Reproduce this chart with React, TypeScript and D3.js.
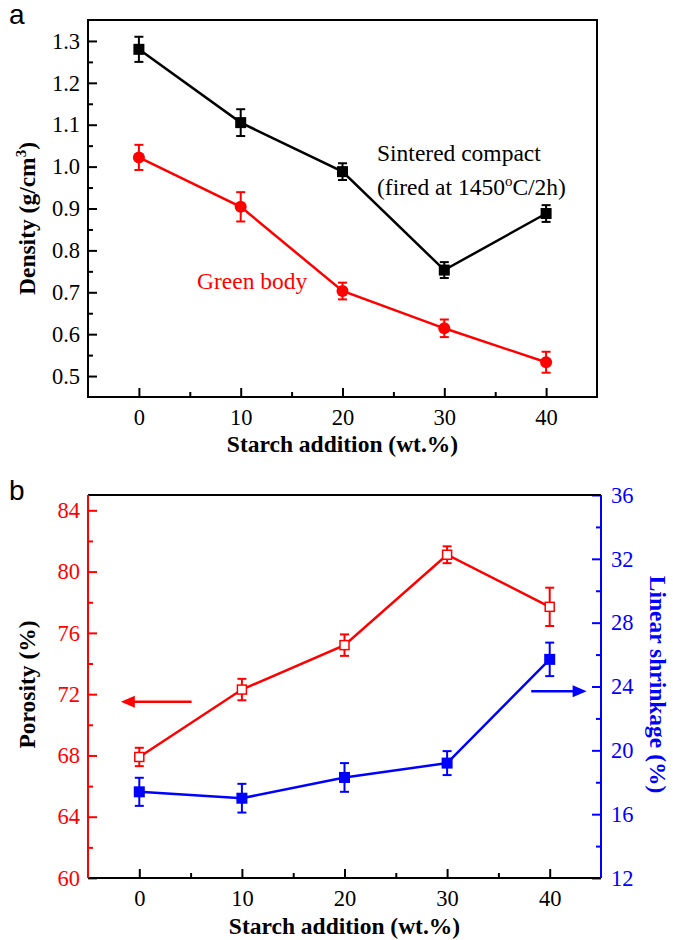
import React, { useEffect, useRef } from "react";
import * as d3 from "d3";

// values
const starch = [0, 10, 20, 30, 40];
const sinteredDensity = [1.28, 1.105, 0.988, 0.753, 0.888];
const sinteredErr = [0.03, 0.032, 0.02, 0.019, 0.02];
const greenDensity = [1.022, 0.904, 0.703, 0.614, 0.533];
const greenErr = [0.03, 0.035, 0.02, 0.021, 0.025];
const porosity = [67.9, 72.3, 75.2, 81.1, 77.7];
const porosityErr = [0.6, 0.7, 0.7, 0.55, 1.25];
const shrinkage = [17.4, 17.0, 18.3, 19.2, 25.7];
const shrinkageErr = [0.88, 0.9, 0.9, 0.75, 1.05];

const xTicks = [0, 10, 20, 30, 40];
const xMinor = [5, 15, 25, 35];
const densityTicks = [0.5, 0.6, 0.7, 0.8, 0.9, 1.0, 1.1, 1.2, 1.3];
const densityMinor = [0.55, 0.65, 0.75, 0.85, 0.95, 1.05, 1.15, 1.25];
const porosityTicks = [60, 64, 68, 72, 76, 80, 84];
const porosityMinor = [62, 66, 70, 74, 78, 82];
const shrinkageTicks = [12, 16, 20, 24, 28, 32, 36];
const shrinkageMinor = [14, 18, 22, 26, 30, 34];

const W = 673;
const H = 940;
const SERIF = "'Liberation Serif', 'Times New Roman', serif";
const RED = "#ff0000";
const BLUE = "#0000ff";
const TICK_FS = 22.5;
const TITLE_FS = "23.5px";
const NOTE_FS = "23.5px";

function App() {
  const svgRef = useRef<SVGSVGElement | null>(null);

  useEffect(() => {
    const svg = d3.select(svgRef.current);
    svg.selectAll("*").remove();

    const styleAxis = (g: any, color: string, size: number) => {
      g.select(".domain").remove();
      g.selectAll("line").attr("stroke", color).attr("stroke-width", 2);
      g.selectAll("text")
        .attr("fill", color)
        .style("font-family", SERIF)
        .style("font-size", size + "px");
    };

    const addErrorBars = (g: any, x: any, y: any, vals: number[], errs: number[], color: string) => {
      starch.forEach((s, i) => {
        const cx = x(s);
        const y0 = y(vals[i] - errs[i]);
        const y1 = y(vals[i] + errs[i]);
        g.append("line").attr("x1", cx).attr("x2", cx).attr("y1", y0).attr("y2", y1)
          .attr("stroke", color).attr("stroke-width", 2);
        [y0, y1].forEach((yy) => {
          g.append("line").attr("x1", cx - 4.5).attr("x2", cx + 4.5).attr("y1", yy).attr("y2", yy)
            .attr("stroke", color).attr("stroke-width", 2);
        });
      });
    };

    //---------------- panel a ----------------
    const a = { left: 88, right: 597, top: 20, bottom: 397 };
    const xA = d3.scaleLinear().domain([-5, 45]).range([a.left, a.right]);
    const yA = d3.scaleLinear().domain([0.45, 1.35]).range([a.bottom, a.top]);

    svg.append("text").attr("x", 9).attr("y", 24).text("a")
      .style("font-family", "'Liberation Sans', Arial, sans-serif").style("font-size", "28px");

    // minor + major ticks, pointing inward
    const gA = svg.append("g");
    gA.append("g").attr("transform", `translate(0,${a.bottom})`)
      .call(d3.axisBottom(xA).tickValues(xMinor).tickSize(-5).tickFormat(() => ""))
      .call((g: any) => styleAxis(g, "#000", TICK_FS));
    gA.append("g").attr("transform", `translate(0,${a.bottom})`)
      .call(d3.axisBottom(xA).tickValues(xTicks).tickSize(-9).tickPadding(12).tickFormat(d3.format("d")))
      .call((g: any) => styleAxis(g, "#000", TICK_FS));
    gA.append("g").attr("transform", `translate(${a.left},0)`)
      .call(d3.axisLeft(yA).tickValues(densityMinor).tickSize(-5).tickFormat(() => ""))
      .call((g: any) => styleAxis(g, "#000", TICK_FS));
    gA.append("g").attr("transform", `translate(${a.left},0)`)
      .call(d3.axisLeft(yA).tickValues(densityTicks).tickSize(-9).tickPadding(8).tickFormat(d3.format(".1f")))
      .call((g: any) => styleAxis(g, "#000", TICK_FS));

    svg.append("rect").attr("x", a.left).attr("y", a.top)
      .attr("width", a.right - a.left).attr("height", a.bottom - a.top)
      .attr("fill", "none").attr("stroke", "#000").attr("stroke-width", 2);

    const lineA = (vals: number[]) =>
      d3.line<number>().x((_, i) => xA(starch[i])).y((d) => yA(d))(vals);

    svg.append("path").attr("d", lineA(sinteredDensity)).attr("fill", "none")
      .attr("stroke", "#000").attr("stroke-width", 2.5);
    svg.append("path").attr("d", lineA(greenDensity)).attr("fill", "none")
      .attr("stroke", RED).attr("stroke-width", 2.5);

    addErrorBars(svg, xA, yA, sinteredDensity, sinteredErr, "#000");
    addErrorBars(svg, xA, yA, greenDensity, greenErr, RED);

    svg.selectAll(".sq-a").data(sinteredDensity).enter().append("rect")
      .attr("x", (_: number, i: number) => xA(starch[i]) - 5.5)
      .attr("y", (d: number) => yA(d) - 5.5)
      .attr("width", 11).attr("height", 11).attr("fill", "#000");
    svg.selectAll(".ci-a").data(greenDensity).enter().append("circle")
      .attr("cx", (_: number, i: number) => xA(starch[i]))
      .attr("cy", (d: number) => yA(d))
      .attr("r", 6).attr("fill", RED);

    svg.append("text").attr("x", 377).attr("y", 161).text("Sintered compact")
      .style("font-family", SERIF).style("font-size", NOTE_FS);
    const fired = svg.append("text").attr("x", 377).attr("y", 195)
      .style("font-family", SERIF).style("font-size", NOTE_FS);
    fired.append("tspan").text("(fired at 1450");
    fired.append("tspan").attr("dy", -9).style("font-size", "15px").text("o");
    fired.append("tspan").attr("dy", 9).text("C/2h)");

    svg.append("text").attr("x", 197).attr("y", 289).text("Green body")
      .attr("fill", RED).style("font-family", SERIF).style("font-size", NOTE_FS);

    const dens = svg.append("text").attr("transform", `translate(35,${(a.top + a.bottom) / 2 + 10}) rotate(-90)`)
      .attr("text-anchor", "middle").style("font-family", SERIF).style("font-size", TITLE_FS)
      .style("font-weight", "bold");
    dens.append("tspan").text("Density (g/cm");
    dens.append("tspan").attr("dy", -9).style("font-size", "15px").text("3");
    dens.append("tspan").attr("dy", 9).text(")");

    svg.append("text").attr("x", (a.left + a.right) / 2).attr("y", 452)
      .attr("text-anchor", "middle").text("Starch addition (wt.%)")
      .style("font-family", SERIF).style("font-size", TITLE_FS).style("font-weight", "bold");

    //---------------- panel b ----------------
    const b = { left: 88, right: 601, top: 495, bottom: 878 };
    const xB = d3.scaleLinear().domain([-5, 45]).range([b.left, b.right]);
    const yP = d3.scaleLinear().domain([60, 85]).range([b.bottom, b.top]);
    const yS = d3.scaleLinear().domain([12, 36]).range([b.bottom, b.top]);

    svg.append("text").attr("x", 9).attr("y", 500).text("b")
      .style("font-family", "'Liberation Sans', Arial, sans-serif").style("font-size", "28px");

    const gB = svg.append("g");
    gB.append("g").attr("transform", `translate(0,${b.bottom})`)
      .call(d3.axisBottom(xB).tickValues(xMinor).tickSize(-5).tickFormat(() => ""))
      .call((g: any) => styleAxis(g, "#000", TICK_FS));
    gB.append("g").attr("transform", `translate(0,${b.bottom})`)
      .call(d3.axisBottom(xB).tickValues(xTicks).tickSize(-9).tickPadding(12).tickFormat(d3.format("d")))
      .call((g: any) => styleAxis(g, "#000", TICK_FS));
    gB.append("g").attr("transform", `translate(${b.left},0)`)
      .call(d3.axisLeft(yP).tickValues(porosityMinor).tickSize(-5).tickFormat(() => ""))
      .call((g: any) => styleAxis(g, RED, TICK_FS));
    gB.append("g").attr("transform", `translate(${b.left},0)`)
      .call(d3.axisLeft(yP).tickValues(porosityTicks).tickSize(-9).tickPadding(8).tickFormat(d3.format("d")))
      .call((g: any) => styleAxis(g, RED, TICK_FS));
    gB.append("g").attr("transform", `translate(${b.right},0)`)
      .call(d3.axisRight(yS).tickValues(shrinkageMinor).tickSize(-5).tickFormat(() => ""))
      .call((g: any) => styleAxis(g, BLUE, TICK_FS));
    gB.append("g").attr("transform", `translate(${b.right},0)`)
      .call(d3.axisRight(yS).tickValues(shrinkageTicks).tickSize(-9).tickPadding(10).tickFormat(d3.format("d")))
      .call((g: any) => styleAxis(g, BLUE, TICK_FS));

    // frame: black top/bottom, coloured sides
    svg.append("line").attr("x1", b.left).attr("x2", b.right).attr("y1", b.top).attr("y2", b.top)
      .attr("stroke", "#000").attr("stroke-width", 2);
    svg.append("line").attr("x1", b.left).attr("x2", b.right).attr("y1", b.bottom).attr("y2", b.bottom)
      .attr("stroke", "#000").attr("stroke-width", 2);
    svg.append("line").attr("x1", b.left).attr("x2", b.left).attr("y1", b.top).attr("y2", b.bottom)
      .attr("stroke", RED).attr("stroke-width", 2);
    svg.append("line").attr("x1", b.right).attr("x2", b.right).attr("y1", b.top).attr("y2", b.bottom)
      .attr("stroke", BLUE).attr("stroke-width", 2);

    const lineP = d3.line<number>().x((_, i) => xB(starch[i])).y((d) => yP(d));
    const lineS = d3.line<number>().x((_, i) => xB(starch[i])).y((d) => yS(d));
    svg.append("path").attr("d", lineP(porosity)).attr("fill", "none")
      .attr("stroke", RED).attr("stroke-width", 2.5);
    svg.append("path").attr("d", lineS(shrinkage)).attr("fill", "none")
      .attr("stroke", BLUE).attr("stroke-width", 2.5);

    addErrorBars(svg, xB, yP, porosity, porosityErr, RED);
    addErrorBars(svg, xB, yS, shrinkage, shrinkageErr, BLUE);

    svg.selectAll(".sq-p").data(porosity).enter().append("rect")
      .attr("x", (_: number, i: number) => xB(starch[i]) - 4.5)
      .attr("y", (d: number) => yP(d) - 4.5)
      .attr("width", 9).attr("height", 9).attr("fill", "#fff")
      .attr("stroke", RED).attr("stroke-width", 1.5);
    svg.selectAll(".sq-s").data(shrinkage).enter().append("rect")
      .attr("x", (_: number, i: number) => xB(starch[i]) - 5.5)
      .attr("y", (d: number) => yS(d) - 5.5)
      .attr("width", 11).attr("height", 11).attr("fill", BLUE);

    // arrows pointing to the axes
    const arrow = (x0: number, x1: number, y: number, color: string) => {
      const dir = Math.sign(x1 - x0);
      svg.append("line").attr("x1", x0).attr("x2", x1 - dir * 10).attr("y1", y).attr("y2", y)
        .attr("stroke", color).attr("stroke-width", 2.5);
      svg.append("path")
        .attr("d", `M${x1},${y} L${x1 - dir * 14},${y - 6} L${x1 - dir * 14},${y + 6} Z`)
        .attr("fill", color);
    };
    arrow(xB(5.1), xB(-1.8), yP(71.5), RED);
    arrow(xB(38.2), xB(43.6), yS(23.7), BLUE);

    svg.append("text").attr("transform", `translate(35,${(b.top + b.bottom) / 2 - 2}) rotate(-90)`)
      .attr("text-anchor", "middle").text("Porosity (%)")
      .style("font-family", SERIF).style("font-size", TITLE_FS).style("font-weight", "bold");
    svg.append("text").attr("transform", `translate(650,${(b.top + b.bottom) / 2 - 2}) rotate(90)`)
      .attr("text-anchor", "middle").text("Linear shrinkage (%)").attr("fill", BLUE)
      .style("font-family", SERIF).style("font-size", TITLE_FS).style("font-weight", "bold");

    svg.append("text").attr("x", (b.left + b.right) / 2).attr("y", 934)
      .attr("text-anchor", "middle").text("Starch addition (wt.%)")
      .style("font-family", SERIF).style("font-size", TITLE_FS).style("font-weight", "bold");
  }, []);

  return (
    <svg
      ref={svgRef}
      width={W}
      height={H}
      style={{ position: "absolute", left: 0, top: 0, background: "#fff" }}
    />
  );
}

export default App;
